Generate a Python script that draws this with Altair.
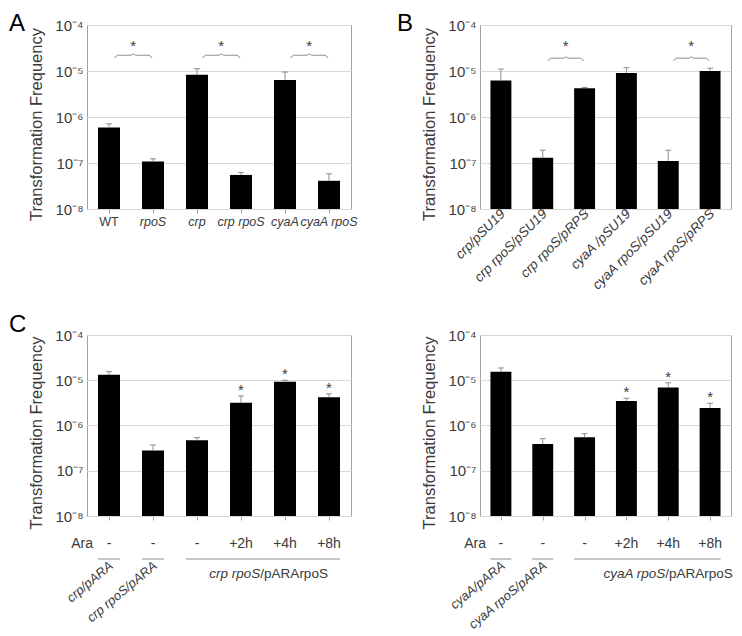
import altair as alt
import pandas as pd

FONT = "Liberation Sans"
TXT = "#3a3a3a"
FRAME = "#a0a0a0"
GRID = "#d8d8d8"
ERR = "#8c8c8c"

# ---------------- data ----------------
a_labels = ["WT", "rpoS", "crp", "crp rpoS", "cyaA", "cyaA rpoS"]
a_italic = [False, True, True, True, True, True]
a_values = [5.9e-7, 1.08e-7, 8.3e-6, 5.5e-8, 6.4e-6, 4.1e-8]
a_errors = [7.1e-7, 1.23e-7, 1.12e-5, 6.2e-8, 9.5e-6, 5.8e-8]
a_pairs = [(0, 1), (2, 3), (4, 5)]
a_bracket = 2.2e-5

b_labels = ["crp/pSU19", "crp rpoS/pSU19", "crp rpoS/pRPS",
            "cyaA /pSU19", "cyaA rpoS/pSU19", "cyaA rpoS/pRPS"]
b_values = [6.2e-6, 1.3e-7, 4.2e-6, 9.1e-6, 1.1e-7, 1.0e-5]
b_errors = [1.1e-5, 1.9e-7, 4.4e-6, 1.18e-5, 1.9e-7, 1.15e-5]
b_pairs = [(1, 2), (4, 5)]
b_bracket = 1.9e-5

ara_labels = ["-", "-", "-", "+2h", "+4h", "+8h"]

c_values = [1.32e-5, 2.8e-7, 4.7e-7, 3.2e-6, 9.3e-6, 4.2e-6]
c_errors = [1.55e-5, 3.7e-7, 5.4e-7, 4.5e-6, 1.0e-5, 5.0e-6]
c_strains = ["crp/pARA", "crp rpoS/pARA"]
c_group = ["crp rpoS", "/pARArpoS"]
c_stars = [3, 4, 5]

d_values = [1.55e-5, 3.9e-7, 5.5e-7, 3.5e-6, 6.9e-6, 2.45e-6]
d_errors = [1.87e-5, 5.1e-7, 6.6e-7, 4.0e-6, 8.8e-6, 3.1e-6]
d_strains = ["cyaA/pARA", "cyaA rpoS/pARA"]
d_group = ["cyaA rpoS", "/pARArpoS"]
d_stars = [3, 4, 5]

groups = [(0, 0), (1, 1), (2, 5)]

W_L, W_R, H1, H2 = 264, 251, 184, 181
YLABEL = "'10' + ['\u207b\u2078','\u207b\u2077','\u207b\u2076','\u207b\u2075','\u207b\u2074'][round(log(datum.value)/LN10) + 8]"


def panel(values, errors, width, height, letter, letter_x, letter_y, letter_op=1.0):
    n = len(values)
    xs = alt.Scale(domain=[-0.5, n - 0.5], nice=False, zero=False)
    ys = alt.Scale(type="log", domain=[1e-8, 1e-4], nice=False)
    xaxis = alt.Axis(values=list(range(n)), labels=False, ticks=True, tickSize=4,
                     tickColor=FRAME, domain=False, grid=False, title=None)
    yaxis = alt.Axis(values=[1e-8, 1e-7, 1e-6, 1e-5, 1e-4], labelExpr=YLABEL,
                     labelFontSize=15, labelColor=TXT, labelPadding=4, ticks=False,
                     domain=False, grid=True, gridColor=GRID,
                     title="Transformation Frequency", titleFontSize=16.5,
                     titleFontWeight="normal", titleColor=TXT,
                     titleX=-43, titleY=height / 2 + 7)

    def X(f):
        return alt.X(f, type="quantitative", scale=xs, axis=xaxis)

    def Y(f):
        return alt.Y(f, type="quantitative", scale=ys, axis=yaxis)

    df = pd.DataFrame({"i": list(range(n)), "v": values, "e": errors})
    base = alt.Chart(df).transform_calculate(
        x0="datum.i - 0.25", x1="datum.i + 0.25",
        c0="datum.i - 0.07", c1="datum.i + 0.07", base="1e-8")
    bars = base.mark_bar(color="black").encode(x=X("x0"), x2="x1:Q", y=Y("v"), y2="base:Q")
    stem = base.mark_rule(color=ERR, strokeWidth=1).encode(x=X("i"), y=Y("v"), y2="e:Q")
    cap = base.mark_rule(color=ERR, strokeWidth=1).encode(x=X("c0"), x2="c1:Q", y=Y("e"))
    let = alt.Chart(pd.DataFrame({"t": [letter]})).mark_text(
        fontSize=24, color="black", align="left", baseline="top", opacity=letter_op
    ).encode(x=alt.value(letter_x), y=alt.value(letter_y), text="t:N")
    return [bars, stem, cap, let], X, Y


def brackets(pairs, yb, X, Y, star_dy):
    rows = []
    stars = []
    for k, (a, b) in enumerate(pairs):
        m = (a + b) / 2 + 0.05
        hw = 0.43
        pts = [(-hw, 0.88), (-hw + 0.07, 1.0), (-0.05, 1.0), (0.0, 1.07),
               (0.05, 1.0), (hw - 0.07, 1.0), (hw, 0.88)]
        for o, (dx, f) in enumerate(pts):
            rows.append({"k": k, "o": o, "bx": m + dx, "by": yb * f})
        stars.append({"sx": m, "sy": yb})
    line = alt.Chart(pd.DataFrame(rows)).mark_line(color=ERR, strokeWidth=1).encode(
        x=X("bx"), y=Y("by"), detail="k:N", order="o:Q")
    st = alt.Chart(pd.DataFrame(stars)).mark_text(
        text="*", fontSize=15, color=TXT, baseline="alphabetic", dy=star_dy
    ).encode(x=X("sx"), y=Y("sy"))
    return [line, st]


# ---------------- panel A ----------------
la, XA, YA = panel(a_values, a_errors, W_L, H1, "A", -78, -13)
a_df = pd.DataFrame({"i": list(range(6)), "lab": a_labels, "it": a_italic})
a_norm = alt.Chart(a_df).transform_filter("!datum.it").mark_text(
    fontSize=12.5, color=TXT, baseline="top").encode(x=XA("i"), y=alt.value(H1 + 7), text="lab:N")
a_ital = alt.Chart(a_df).transform_filter("datum.it").mark_text(
    fontSize=12.5, color=TXT, baseline="top", fontStyle="italic").encode(
    x=XA("i"), y=alt.value(H1 + 7), text="lab:N")
chartA = alt.layer(*la, *brackets(a_pairs, a_bracket, XA, YA, -4), a_norm, a_ital).properties(
    width=W_L, height=H1)

# ---------------- panel B ----------------
lb, XB, YB = panel(b_values, b_errors, W_R, H1, "B", -83, -13)
b_df = pd.DataFrame({"i": list(range(6)), "lab": b_labels})
b_text = alt.Chart(b_df).mark_text(
    fontSize=13.5, color=TXT, fontStyle="italic", angle=315, align="right",
    baseline="middle", dx=3).encode(x=XB("i"), y=alt.value(H1 + 5), text="lab:N")
chartB = alt.layer(*lb, *brackets(b_pairs, b_bracket, XB, YB, -7), b_text).properties(
    width=W_R, height=H1)


# ---------------- panels C / D ----------------
def lower(values, errors, width, strains, group, stars, split, letter, letter_op):
    l, X, Y = panel(values, errors, width, H2, letter, -78 if letter_op else 0, -22, letter_op)
    n = len(values)
    st_df = pd.DataFrame({"i": stars, "e": [errors[s] for s in stars]})
    star = alt.Chart(st_df).mark_text(text="*", fontSize=15, color=TXT,
                                      baseline="alphabetic", dy=-1).encode(x=X("i"), y=Y("e"))
    ara_df = pd.DataFrame({"i": list(range(n)), "lab": ara_labels})
    ara = alt.Chart(ara_df).mark_text(fontSize=14, color=TXT, baseline="middle").encode(
        x=X("i"), y=alt.value(H2 + 28), text="lab:N")
    ara_t = alt.Chart(pd.DataFrame({"t": ["Ara"]})).mark_text(
        fontSize=14, color=TXT, baseline="middle", align="right").encode(
        x=alt.value(6), y=alt.value(H2 + 28), text="t:N")
    g_df = pd.DataFrame({"g0": [g[0] for g in groups], "g1": [g[1] for g in groups]})
    grule = alt.Chart(g_df).transform_calculate(
        r0="datum.g0 - 0.25", r1="datum.g1 + 0.25").mark_rule(
        color=ERR, strokeWidth=1).encode(x=X("r0"), x2="r1:Q", y=alt.value(H2 + 43))
    gl_df = pd.DataFrame({"p": [split], "t1": [group[0]], "t2": [group[1]]})
    g_it = alt.Chart(gl_df).mark_text(fontSize=13.5, color=TXT, fontStyle="italic",
                                      align="right", baseline="middle").encode(
        x=X("p"), y=alt.value(H2 + 58), text="t1:N")
    g_no = alt.Chart(gl_df).mark_text(fontSize=13.5, color=TXT,
                                      align="left", baseline="middle").encode(
        x=X("p"), y=alt.value(H2 + 58), text="t2:N")
    s_df = pd.DataFrame({"i": list(range(len(strains))), "lab": strains})
    s_txt = alt.Chart(s_df).mark_text(fontSize=13, color=TXT, fontStyle="italic",
                                      angle=320, align="right", baseline="middle",
                                      dx=3).encode(
        x=X("i"), y=alt.value(H2 + 50), text="lab:N")
    return alt.layer(*l, star, ara, ara_t, grule, g_it, g_no, s_txt).properties(
        width=width, height=H2)


chartC = lower(c_values, c_errors, W_L, c_strains, c_group, c_stars, 3.44, "C", 1.0)
chartD = lower(d_values, d_errors, W_R, d_strains, d_group, d_stars, 3.93, "D", 0.0)

chart = alt.concat(chartA, chartB, chartC, chartD, columns=2,
                   spacing={"row": 126, "column": 129}, bounds="flush").properties(
    padding={"top": 3, "left": 0, "right": 0, "bottom": 0}
).configure(font=FONT).configure_view(stroke=FRAME, strokeWidth=1)

chart.save("out.html", embed_options={"renderer": "svg", "actions": False})
